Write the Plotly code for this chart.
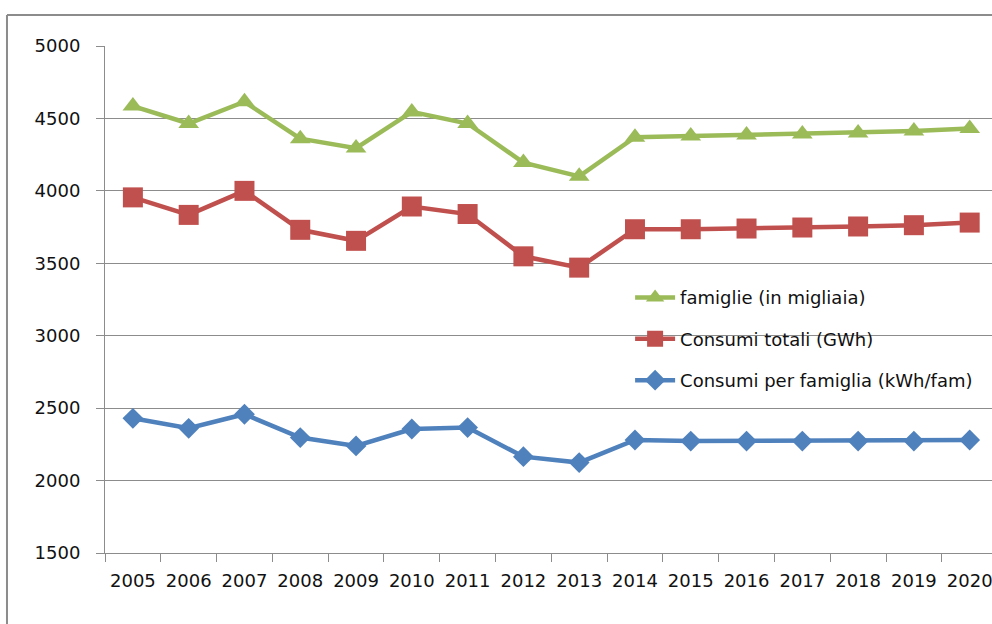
import plotly.graph_objects as go

years = [str(y) for y in range(2005, 2021)]
famiglie = [4585, 4465, 4615, 4360, 4295, 4545, 4465, 4195, 4100,
            4370, 4378, 4386, 4393, 4400, 4414, 4430]
consumi_totali = [3955, 3834, 4000, 3731, 3655, 3892, 3840, 3548, 3470,
                  3735, 3735, 3740, 3747, 3754, 3763, 3781]
consumi_fam = [2430, 2361, 2458, 2297, 2239, 2356, 2366, 2165, 2124,
               2280, 2273, 2273, 2273, 2273, 2273, 2280]
y_ticks = [1500, 2000, 2500, 3000, 3500, 4000, 4500, 5000]

GREEN = "#9BBB59"
RED = "#C0504D"
BLUE = "#4F81BD"
GRID = "#8C8C8C"
FONT = "DejaVu Sans"
TXT = "#111111"

fig = go.Figure()
fig.add_trace(go.Scatter(x=years, y=famiglie, name="famiglie (in migliaia)",
                         mode="lines+markers", legendgroup="a",
                         line=dict(color=GREEN, width=4.5),
                         marker=dict(symbol="triangle-up", size=18, color=GREEN)))
fig.add_trace(go.Scatter(x=years, y=consumi_totali, name="Consumi totali (GWh)",
                         mode="lines+markers", legendgroup="b",
                         line=dict(color=RED, width=4.5),
                         marker=dict(symbol="square", size=20, color=RED)))
fig.add_trace(go.Scatter(x=years, y=consumi_fam, name="Consumi per famiglia (kWh/fam)",
                         mode="lines+markers", legendgroup="c",
                         line=dict(color=BLUE, width=4.5),
                         marker=dict(symbol="diamond", size=16, color=BLUE)))

fig.update_layout(
    width=992, height=624,
    margin=dict(l=105, r=0, t=46, b=71),
    paper_bgcolor="white", plot_bgcolor="white",
    font=dict(family=FONT, size=18, color=TXT),
    showlegend=True,
    legend=dict(x=0.592, y=0.54, xanchor="left", yanchor="top",
                bgcolor="rgba(0,0,0,0)", traceorder="grouped", tracegroupgap=15,
                font=dict(family=FONT, size=18, color=TXT),
                itemwidth=40),
    xaxis=dict(type="category", range=[-0.5, 15.4], tickson="boundaries",
               ticks="outside", ticklen=8, tickcolor=GRID, showgrid=False,
               showline=True, linecolor=GRID, linewidth=1,
               ticklabelstandoff=11,
               tickfont=dict(family=FONT, size=18, color=TXT)),
    yaxis=dict(range=[1500, 5000], tickvals=y_ticks, showgrid=True,
               gridcolor=GRID, gridwidth=1, ticks="outside", ticklen=8,
               tickcolor=GRID, showline=True, linecolor=GRID, linewidth=1,
               zeroline=False, ticklabelstandoff=12,
               tickfont=dict(family=FONT, size=18, color=TXT)),
    shapes=[
        dict(type="rect", xref="paper", yref="paper", layer="between",
             x0=0.566, x1=1.0, y0=0.30, y1=0.555,
             line=dict(width=0), fillcolor="white"),
        dict(type="line", xref="paper", yref="paper", x0=-0.1105, x1=1.01,
             y0=1.0611, y1=1.0611, line=dict(color=GRID, width=2)),
        dict(type="line", xref="paper", yref="paper", x0=-0.1105, x1=-0.1105,
             y0=1.0611, y1=-0.15, line=dict(color=GRID, width=2)),
    ],
)

fig.write_html("out.html")
